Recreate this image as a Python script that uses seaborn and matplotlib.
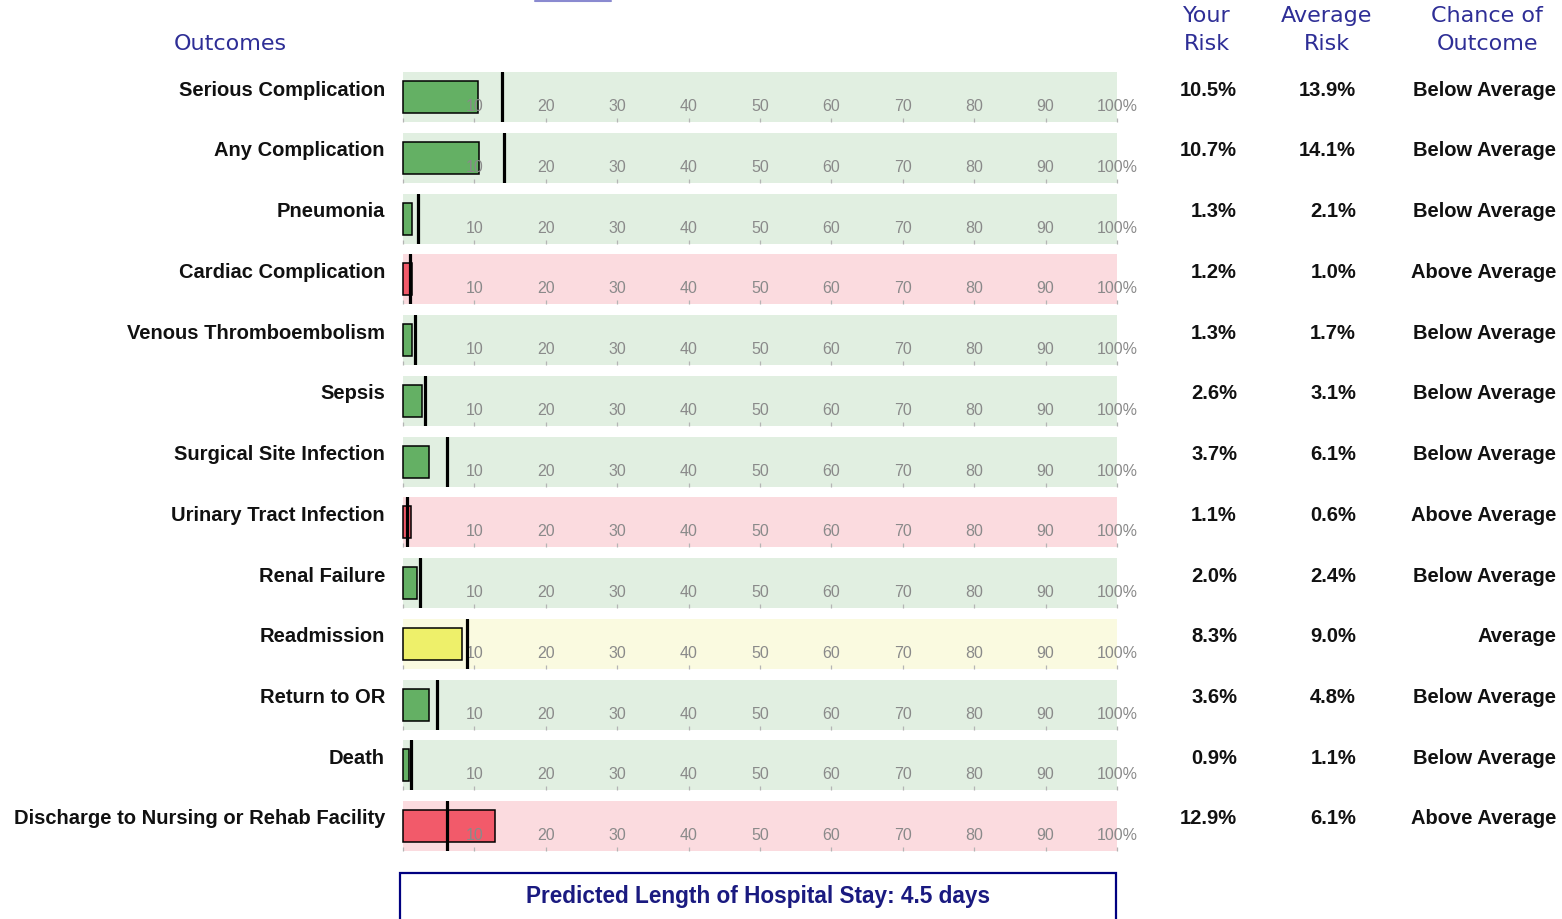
import matplotlib
matplotlib.use('Agg')
import matplotlib.pyplot as plt
import seaborn as sns
import pandas as pd
from matplotlib.patches import Rectangle
from matplotlib.lines import Line2D

# ---------------- data ----------------
outcomes = [
    "Serious Complication", "Any Complication", "Pneumonia",
    "Cardiac Complication", "Venous Thromboembolism", "Sepsis",
    "Surgical Site Infection", "Urinary Tract Infection", "Renal Failure",
    "Readmission", "Return to OR", "Death",
    "Discharge to Nursing or Rehab Facility",
]
your_risk = [10.5, 10.7, 1.3, 1.2, 1.3, 2.6, 3.7, 1.1, 2.0, 8.3, 3.6, 0.9, 12.9]
avg_risk = [13.9, 14.1, 2.1, 1.0, 1.7, 3.1, 6.1, 0.6, 2.4, 9.0, 4.8, 1.1, 6.1]
chance = ["Below Average", "Below Average", "Below Average", "Above Average",
          "Below Average", "Below Average", "Below Average", "Above Average",
          "Below Average", "Average", "Below Average", "Below Average",
          "Above Average"]
tick_values = [0, 10, 20, 30, 40, 50, 60, 70, 80, 90, 100]
tick_labels = ["", "10", "20", "30", "40", "50", "60", "70", "80", "90", "100%"]
stay_days = 4.5

# ---------------- style ----------------
sns.set_theme(style="white")
plt.rcParams['font.family'] = ['Liberation Sans', 'DejaVu Sans']

W, H = 1562, 919
fig = plt.figure(figsize=(W / 100, H / 100), dpi=100)
fig.patch.set_facecolor('white')


def fx(px):
    return px / W


def fy(py):
    return 1 - py / H


palette = {
    "Below Average": ("#e1efe1", "#64b064"),
    "Above Average": ("#fbdbdf", "#f25a6a"),
    "Average": ("#fafae0", "#eef06a"),
}
header_col = "#2e2e96"

x0, x1 = 403, 1117
top0, pitch, ph = 72, 60.75, 50
label_fs = 14.5

for i, name in enumerate(outcomes):
    top = top0 + i * pitch
    ax = fig.add_axes([fx(x0), fy(top + ph), fx(x1) - fx(x0), ph / H])
    bg, barc = palette[chance[i]]
    ax.set_facecolor(bg)
    df = pd.DataFrame({"outcome": [name], "risk": [your_risk[i]]})
    sns.barplot(data=df, x="risk", y="outcome", orient="h", color=barc,
                edgecolor="black", linewidth=1.1, width=0.64, saturation=1,
                ax=ax)
    for p in ax.patches:
        p.set_clip_on(False)
    ax.axvline(avg_risk[i], color="black", lw=2.3, zorder=4)
    ax.set_xlim(0, 100)
    ax.set_ylim(0.5, -0.5)
    ax.set_xticks(tick_values)
    ax.set_xticklabels(tick_labels)
    ax.set_yticks([])
    ax.set_xlabel("")
    ax.set_ylabel("")
    ax.set_axisbelow(False)
    for s in ax.spines.values():
        s.set_visible(False)
    ax.tick_params(axis="x", bottom=True, direction="in", length=3, width=0.9,
                   color="#b4b4b4", pad=-16.5, labelsize=11.5,
                   labelcolor="#8a8a8a")

    ty = 90 + i * pitch
    fig.text(fx(385), fy(ty), name, ha="right", va="center",
             fontweight="bold", fontsize=label_fs, color="#111111")
    fig.text(fx(1237), fy(ty), f"{your_risk[i]:.1f}%", ha="right", va="center",
             fontweight="bold", fontsize=label_fs, color="#111111")
    fig.text(fx(1356), fy(ty), f"{avg_risk[i]:.1f}%", ha="right", va="center",
             fontweight="bold", fontsize=label_fs, color="#111111")
    fig.text(fx(1556), fy(ty), chance[i], ha="right", va="center",
             fontweight="bold", fontsize=label_fs, color="#111111")

# headers
hdr = dict(ha="center", va="center", family=["DejaVu Sans"], fontsize=16,
           color=header_col)
fig.text(fx(230), fy(44), "Outcomes", **hdr)
fig.text(fx(1207), fy(16), "Your", **hdr)
fig.text(fx(1207), fy(44), "Risk", **hdr)
fig.text(fx(1327), fy(16), "Average", **hdr)
fig.text(fx(1327), fy(44), "Risk", **hdr)
fig.text(fx(1487), fy(16), "Chance of", **hdr)
fig.text(fx(1487), fy(44), "Outcome", **hdr)

# top cut-off link underline
fig.add_artist(Line2D([fx(535), fx(611)], [fy(0.8), fy(0.8)], color="#8a8ad0",
                      lw=1.5))

# bottom box
fig.add_artist(Rectangle((fx(400), fy(925)), fx(1116) - fx(400), (925 - 873) / H,
                         transform=fig.transFigure, fill=False,
                         edgecolor="#000080", lw=1.6))
fig.text(fx(758), fy(896), f"Predicted Length of Hospital Stay: {stay_days} days",
         ha="center", va="center", fontweight="bold", fontsize=16.3,
         color="#1a1a80")

fig.savefig("out.png", dpi=100)
